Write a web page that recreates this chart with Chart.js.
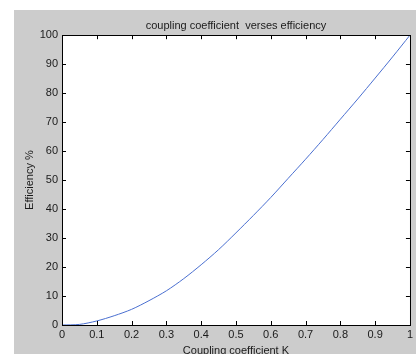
<!DOCTYPE html>
<html>
<head>
<meta charset="utf-8">
<script src="https://cdn.jsdelivr.net/npm/chart.js@4/dist/chart.umd.min.js"></script>
<style>
  html, body { margin: 0; padding: 0; background: #ffffff; }
  #wrap { width: 416px; height: 354px; }
</style>
</head>
<body>
<div id="wrap"><canvas id="effChart" width="416" height="354"></canvas></div>
<script>
// coupling coefficient K and efficiency %
const couplingK = [0, 0.05, 0.1, 0.15, 0.2, 0.25, 0.3, 0.35, 0.4, 0.45, 0.5,
                   0.55, 0.6, 0.65, 0.7, 0.75, 0.8, 0.85, 0.9, 0.95, 1.0];
const efficiency = [0, 0.2, 1.4, 3.2, 5.4, 8.4, 11.8, 16, 20.8, 26, 31.8,
                    37.8, 44, 50.6, 57.2, 64, 71, 78, 85.2, 92.5, 100];
const xTicks = [0, 0.1, 0.2, 0.3, 0.4, 0.5, 0.6, 0.7, 0.8, 0.9, 1];
const yTicks = [0, 10, 20, 30, 40, 50, 60, 70, 80, 90, 100];

const FONT = "'Liberation Sans Narrow', 'Arial Narrow', 'Liberation Sans', Arial, sans-serif";
const TEXT = "#1a1a1a";

const points = couplingK.map((k, i) => ({ x: k, y: efficiency[i] }));

// grey figure panel, white axes box
const figureBg = {
    id: "figureBg",
    beforeDraw(chart) {
        const ctx = chart.ctx;
        const a = chart.chartArea;
        ctx.save();
        ctx.fillStyle = "#ffffff";
        ctx.fillRect(0, 0, chart.width, chart.height);
        ctx.fillStyle = "#cccccc";
        ctx.fillRect(14, 10, chart.width - 14, chart.height - 10);
        ctx.fillStyle = "#ffffff";
        ctx.fillRect(a.left, a.top, a.right - a.left, a.bottom - a.top);
        ctx.restore();
    }
};

// box outline and inward ticks on all four sides
const boxTicks = {
    id: "boxTicks",
    afterDatasetsDraw(chart) {
        const ctx = chart.ctx;
        const a = chart.chartArea;
        const xs = chart.scales.x;
        const ys = chart.scales.y;
        const len = 4;
        ctx.save();
        ctx.strokeStyle = "#000000";
        ctx.lineWidth = 1;
        ctx.beginPath();
        xTicks.forEach(v => {
            const px = Math.round(xs.getPixelForValue(v)) + 0.5;
            ctx.moveTo(px, a.bottom);
            ctx.lineTo(px, a.bottom - len);
            ctx.moveTo(px, a.top);
            ctx.lineTo(px, a.top + len);
        });
        yTicks.forEach(v => {
            const py = Math.round(ys.getPixelForValue(v)) + 0.5;
            ctx.moveTo(a.left, py);
            ctx.lineTo(a.left + len, py);
            ctx.moveTo(a.right, py);
            ctx.lineTo(a.right - len, py);
        });
        ctx.stroke();
        ctx.strokeRect(Math.round(a.left) + 0.5, Math.round(a.top) + 0.5,
                       Math.round(a.right - a.left), Math.round(a.bottom - a.top));
        ctx.restore();
    }
};

new Chart(document.getElementById("effChart"), {
    type: "scatter",
    data: {
        datasets: [{
            data: points,
            showLine: true,
            borderColor: "#4a6fd0",
            borderWidth: 1,
            pointRadius: 0,
            tension: 0.3,
            fill: false
        }]
    },
    options: {
        responsive: false,
        animation: false,
        devicePixelRatio: 1,
        layout: { padding: { left: 0, top: 0, right: 6, bottom: -4 } },
        plugins: {
            legend: { display: false },
            tooltip: { enabled: false },
            title: {
                display: true,
                fullSize: false,
                text: "coupling coefficient  verses efficiency",
                color: TEXT,
                font: { family: FONT, size: 11, weight: "normal" },
                padding: { top: 19, bottom: 3 }
            }
        },
        scales: {
            x: {
                type: "linear",
                min: 0,
                max: 1,
                afterBuildTicks: s => { s.ticks = xTicks.map(v => ({ value: v })); },
                afterFit: s => { s.height = 33; },
                grid: { display: false, drawTicks: false },
                border: { display: false },
                ticks: {
                    color: TEXT,
                    font: { family: FONT, size: 11 },
                    padding: 3,
                    maxRotation: 0,
                    callback: v => String(v)
                },
                title: {
                    display: true,
                    text: "Coupling coefficient K",
                    color: TEXT,
                    font: { family: FONT, size: 11 },
                    padding: { top: 0, bottom: 0 }
                }
            },
            y: {
                type: "linear",
                min: 0,
                max: 100,
                afterBuildTicks: s => { s.ticks = yTicks.map(v => ({ value: v })); },
                afterFit: s => { s.width = 62; },
                grid: { display: false, drawTicks: false },
                border: { display: false },
                ticks: {
                    color: TEXT,
                    font: { family: FONT, size: 11 },
                    padding: 4
                },
                title: {
                    display: true,
                    text: "Efficiency %",
                    color: TEXT,
                    font: { family: FONT, size: 11 },
                    padding: { top: 23, bottom: 0 }
                }
            }
        }
    },
    plugins: [figureBg, boxTicks]
});
</script>
</body>
</html>
